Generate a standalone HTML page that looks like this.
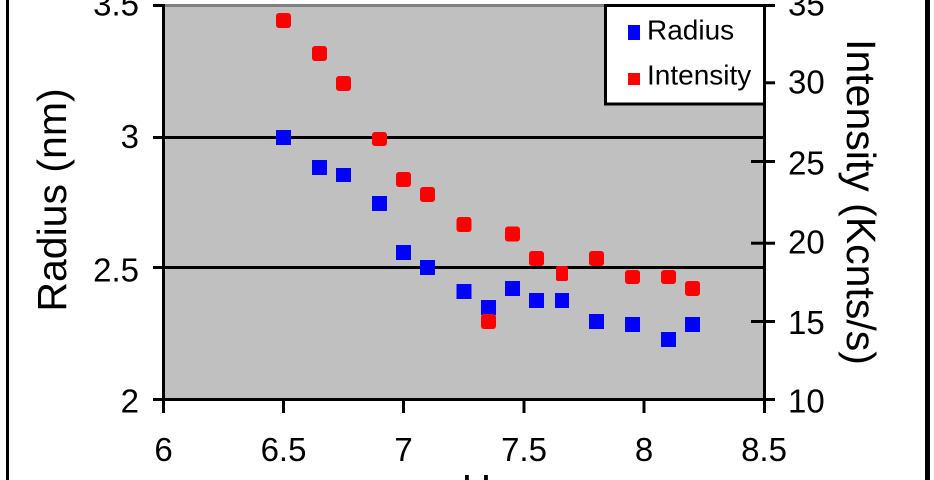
<!DOCTYPE html>
<html>
<head>
<meta charset="utf-8">
<style>
html,body{margin:0;padding:0;background:#fff;width:934px;height:480px;overflow:hidden;}
svg{display:block;overflow:hidden;}
text{font-family:"Liberation Sans",Arial,sans-serif;fill:#000;}
</style>
</head>
<body>
<svg width="934" height="480" viewBox="0 0 934 480" xmlns="http://www.w3.org/2000/svg">
  <defs>
    <clipPath id="frame"><rect x="0" y="0" width="934" height="480"/></clipPath>
  </defs>
  <g clip-path="url(#frame)">
  <rect x="0" y="0" width="934" height="480" fill="#fff"/>
  <!-- outer frame -->
  <rect x="6" y="0" width="3" height="480" fill="#000"/>
  <rect x="925" y="0" width="5" height="480" fill="#000"/>

  <!-- plot area -->
  <rect x="163" y="5" width="601" height="395" fill="#c0c0c0"/>
  <rect x="163" y="4" width="601" height="3" fill="#808080"/>

  <!-- gridlines with left ticks -->
  <rect x="153" y="136" width="611" height="3" fill="#000"/>
  <rect x="153" y="266" width="611" height="3" fill="#000"/>
  <rect x="153" y="4" width="10" height="3" fill="#000"/>

  <!-- axes -->
  <rect x="162" y="4" width="3" height="397" fill="#000"/>
  <rect x="153" y="398" width="622" height="3" fill="#000"/>
  <rect x="763" y="4" width="3" height="397" fill="#000"/>

  <!-- bottom ticks -->
  <rect x="162" y="398" width="3" height="15" fill="#000"/>
  <rect x="282" y="398" width="3" height="15" fill="#000"/>
  <rect x="402" y="398" width="3" height="15" fill="#000"/>
  <rect x="522.5" y="398" width="3" height="15" fill="#000"/>
  <rect x="642.5" y="398" width="3" height="15" fill="#000"/>
  <rect x="763" y="398" width="3" height="15" fill="#000"/>

  <!-- right ticks -->
  <rect x="751" y="4" width="24" height="3" fill="#000"/>
  <rect x="751" y="81.3" width="24" height="3" fill="#000"/>
  <rect x="751" y="160" width="24" height="3" fill="#000"/>
  <rect x="751" y="241.7" width="24" height="3" fill="#000"/>
  <rect x="751" y="320" width="24" height="3" fill="#000"/>

  <!-- Radius (blue) -->
  <g fill="#0000ff">
    <rect x="276" y="130" width="15" height="15"/>
    <rect x="312" y="160" width="15" height="15"/>
    <rect x="336" y="168" width="15" height="14"/>
    <rect x="372" y="196" width="15" height="15"/>
    <rect x="396" y="245" width="15" height="15"/>
    <rect x="420" y="260" width="15" height="15"/>
    <rect x="456.5" y="284" width="15" height="15"/>
    <rect x="481" y="300" width="15" height="15"/>
    <rect x="505" y="281" width="15" height="15"/>
    <rect x="529" y="293" width="15" height="15"/>
    <rect x="555" y="293" width="14" height="15"/>
    <rect x="589" y="314" width="15" height="15"/>
    <rect x="625" y="317" width="15" height="15"/>
    <rect x="661" y="332" width="15" height="15"/>
    <rect x="685" y="317" width="15" height="15"/>
  </g>

  <!-- Intensity (red) -->
  <g fill="#ff0000">
    <rect x="276" y="13" width="15" height="15" rx="3"/>
    <rect x="312" y="46" width="15" height="15" rx="3"/>
    <rect x="336" y="76" width="15" height="15" rx="3"/>
    <rect x="372" y="132" width="15" height="14" rx="3"/>
    <rect x="396" y="172" width="15" height="15" rx="3"/>
    <rect x="420" y="187" width="15" height="15" rx="3"/>
    <rect x="456.5" y="217" width="15" height="15" rx="3"/>
    <rect x="481" y="314" width="15" height="15" rx="3"/>
    <rect x="505" y="226.5" width="15" height="15" rx="3"/>
    <rect x="529" y="251" width="15" height="15" rx="3"/>
    <rect x="556" y="266" width="12" height="15" rx="2"/>
    <rect x="589" y="251" width="15" height="15" rx="3"/>
    <rect x="625" y="270" width="15" height="14" rx="3"/>
    <rect x="661" y="270" width="15" height="14" rx="3"/>
    <rect x="685" y="281" width="15" height="15" rx="3"/>
  </g>

  <!-- legend -->
  <rect x="605.5" y="5.5" width="159" height="98.5" fill="#fff" stroke="#000" stroke-width="3"/>
  <rect x="628" y="25" width="12" height="15" fill="#0000ff"/>
  <rect x="628" y="73" width="12" height="12" fill="#ff0000"/>
  <text x="647" y="39.3" font-size="28">Radius</text>
  <text x="647" y="84.3" font-size="28">Intensity</text>

  <!-- left tick labels -->
  <g font-size="33" text-anchor="end">
    <text x="139" y="15.5">3.5</text>
    <text x="139" y="148">3</text>
    <text x="139" y="281.5">2.5</text>
    <text x="139" y="412.5">2</text>
  </g>

  <!-- right tick labels -->
  <g font-size="33" text-anchor="start">
    <text x="788" y="15.5">35</text>
    <text x="788" y="93.5">30</text>
    <text x="788" y="174.5">25</text>
    <text x="788" y="253.5">20</text>
    <text x="788" y="334">15</text>
    <text x="788" y="412.5">10</text>
  </g>

  <!-- bottom tick labels -->
  <g font-size="33" text-anchor="middle">
    <text x="163.5" y="461">6</text>
    <text x="283.5" y="461">6.5</text>
    <text x="403.5" y="461">7</text>
    <text x="524" y="461">7.5</text>
    <text x="644" y="461">8</text>
    <text x="764" y="461">8.5</text>
  </g>

  <!-- axis titles -->
  <text transform="translate(66,200) rotate(-90)" font-size="41" text-anchor="middle">Radius (nm)</text>
  <text transform="translate(847,202) rotate(90)" font-size="41" text-anchor="middle">Intensity (Kcnts/s)</text>
  <text x="465" y="503" font-size="41" text-anchor="middle">pH</text>
  </g>
</svg>
</body>
</html>
